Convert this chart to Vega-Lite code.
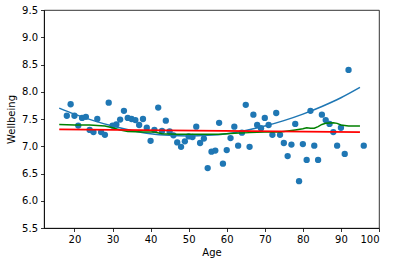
{
  "$schema": "https://vega.github.io/schema/vega-lite/v6.json",
  "width": 335,
  "height": 218,
  "autosize": {"type": "none"},
  "padding": {"left": 44, "top": 10, "right": 16, "bottom": 38},
  "background": "white",
  "config": {
    "view": {"stroke": "#000000", "strokeWidth": 0.8},
    "axis": {
      "grid": false,
      "domainColor": "#000000",
      "domainWidth": 0.8,
      "tickColor": "#000000",
      "tickWidth": 0.8,
      "tickSize": 3.5,
      "labelPadding": 3,
      "labelFont": "DejaVu Sans",
      "labelFontSize": 10,
      "labelColor": "#000000",
      "titleFont": "DejaVu Sans",
      "titleFontSize": 10,
      "titleFontWeight": "normal",
      "titleColor": "#000000"
    }
  },
  "datasets": {
    "points": [
      {"age": 18, "wb": 7.56}, {"age": 19, "wb": 7.77}, {"age": 20, "wb": 7.56}, {"age": 21, "wb": 7.38},
      {"age": 22, "wb": 7.52}, {"age": 23, "wb": 7.54}, {"age": 24, "wb": 7.30}, {"age": 25, "wb": 7.26},
      {"age": 26, "wb": 7.50}, {"age": 27, "wb": 7.26}, {"age": 28, "wb": 7.21}, {"age": 29, "wb": 7.80},
      {"age": 30, "wb": 7.38}, {"age": 31, "wb": 7.40}, {"age": 32, "wb": 7.49}, {"age": 33, "wb": 7.65},
      {"age": 34, "wb": 7.52}, {"age": 35, "wb": 7.50}, {"age": 36, "wb": 7.48}, {"age": 37, "wb": 7.39},
      {"age": 38, "wb": 7.50}, {"age": 39, "wb": 7.34}, {"age": 40, "wb": 7.10}, {"age": 41, "wb": 7.30},
      {"age": 42, "wb": 7.71}, {"age": 43, "wb": 7.28}, {"age": 44, "wb": 7.47}, {"age": 45, "wb": 7.27},
      {"age": 46, "wb": 7.20}, {"age": 47, "wb": 7.07}, {"age": 48, "wb": 6.99}, {"age": 49, "wb": 7.09},
      {"age": 50, "wb": 7.18}, {"age": 51, "wb": 7.17}, {"age": 52, "wb": 7.36}, {"age": 53, "wb": 7.06},
      {"age": 54, "wb": 7.14}, {"age": 55, "wb": 6.60}, {"age": 56, "wb": 6.90}, {"age": 57, "wb": 6.92},
      {"age": 58, "wb": 7.43}, {"age": 59, "wb": 6.68}, {"age": 60, "wb": 6.93}, {"age": 61, "wb": 7.15},
      {"age": 62, "wb": 7.36}, {"age": 63, "wb": 7.01}, {"age": 64, "wb": 7.25}, {"age": 65, "wb": 7.76},
      {"age": 66, "wb": 6.99}, {"age": 67, "wb": 7.58}, {"age": 68, "wb": 7.39}, {"age": 69, "wb": 7.33},
      {"age": 70, "wb": 7.52}, {"age": 71, "wb": 7.39}, {"age": 72, "wb": 7.21}, {"age": 73, "wb": 7.61},
      {"age": 74, "wb": 7.21}, {"age": 75, "wb": 7.06}, {"age": 76, "wb": 6.82}, {"age": 77, "wb": 7.03},
      {"age": 78, "wb": 7.41}, {"age": 79, "wb": 6.36}, {"age": 80, "wb": 7.04}, {"age": 81, "wb": 6.75},
      {"age": 82, "wb": 7.65}, {"age": 83, "wb": 7.01}, {"age": 84, "wb": 6.75}, {"age": 85, "wb": 7.58},
      {"age": 86, "wb": 7.48}, {"age": 87, "wb": 7.41}, {"age": 88, "wb": 7.26}, {"age": 89, "wb": 7.01},
      {"age": 90, "wb": 7.34}, {"age": 91, "wb": 6.86}, {"age": 92, "wb": 8.40}, {"age": 96, "wb": 7.01}
    ],
    "quad": [
      {"age": 16, "wb": 7.70}, {"age": 20, "wb": 7.59}, {"age": 25, "wb": 7.47}, {"age": 30, "wb": 7.37},
      {"age": 35, "wb": 7.29}, {"age": 40, "wb": 7.23}, {"age": 45, "wb": 7.20}, {"age": 50, "wb": 7.19},
      {"age": 55, "wb": 7.20}, {"age": 60, "wb": 7.23}, {"age": 65, "wb": 7.29}, {"age": 70, "wb": 7.37},
      {"age": 75, "wb": 7.47}, {"age": 80, "wb": 7.59}, {"age": 85, "wb": 7.73}, {"age": 90, "wb": 7.89},
      {"age": 95, "wb": 8.08}
    ],
    "linear": [
      {"age": 16, "wb": 7.31}, {"age": 95, "wb": 7.26}
    ],
    "rolling": [
      {"age": 16, "wb": 7.40}, {"age": 20, "wb": 7.39}, {"age": 24, "wb": 7.39}, {"age": 28, "wb": 7.37},
      {"age": 30, "wb": 7.34}, {"age": 32, "wb": 7.30}, {"age": 34, "wb": 7.27}, {"age": 38, "wb": 7.26},
      {"age": 41, "wb": 7.26}, {"age": 43, "wb": 7.23}, {"age": 47, "wb": 7.22}, {"age": 52, "wb": 7.22},
      {"age": 58, "wb": 7.22}, {"age": 62, "wb": 7.24}, {"age": 66, "wb": 7.25}, {"age": 70, "wb": 7.26},
      {"age": 74, "wb": 7.26}, {"age": 76, "wb": 7.28}, {"age": 78, "wb": 7.30}, {"age": 80, "wb": 7.32},
      {"age": 81, "wb": 7.34}, {"age": 82, "wb": 7.33}, {"age": 83, "wb": 7.33}, {"age": 84, "wb": 7.36},
      {"age": 85, "wb": 7.40}, {"age": 86, "wb": 7.42}, {"age": 88, "wb": 7.43}, {"age": 89, "wb": 7.42},
      {"age": 90, "wb": 7.39}, {"age": 92, "wb": 7.37}, {"age": 95, "wb": 7.37}
    ]
  },
  "encoding": {
    "x": {
      "field": "age", "type": "quantitative",
      "scale": {"domain": [12, 100], "nice": false, "zero": false},
      "axis": {"title": "Age", "values": [20, 30, 40, 50, 60, 70, 80, 90, 100], "titlePadding": 3}
    },
    "y": {
      "field": "wb", "type": "quantitative",
      "scale": {"domain": [5.5, 9.5], "nice": false, "zero": false},
      "axis": {"title": "Wellbeing", "format": ".1f", "values": [5.5, 6.0, 6.5, 7.0, 7.5, 8.0, 8.5, 9.0, 9.5], "titlePadding": 5}
    }
  },
  "layer": [
    {
      "data": {"name": "points"},
      "mark": {"type": "circle", "size": 40, "color": "#1f77b4", "opacity": 1}
    },
    {
      "data": {"name": "quad"},
      "mark": {"type": "line", "color": "#1f77b4", "strokeWidth": 1.5, "interpolate": "monotone"}
    },
    {
      "data": {"name": "rolling"},
      "mark": {"type": "line", "color": "#008000", "strokeWidth": 1.5}
    },
    {
      "data": {"name": "linear"},
      "mark": {"type": "line", "color": "#ff0000", "strokeWidth": 1.8}
    }
  ]
}
